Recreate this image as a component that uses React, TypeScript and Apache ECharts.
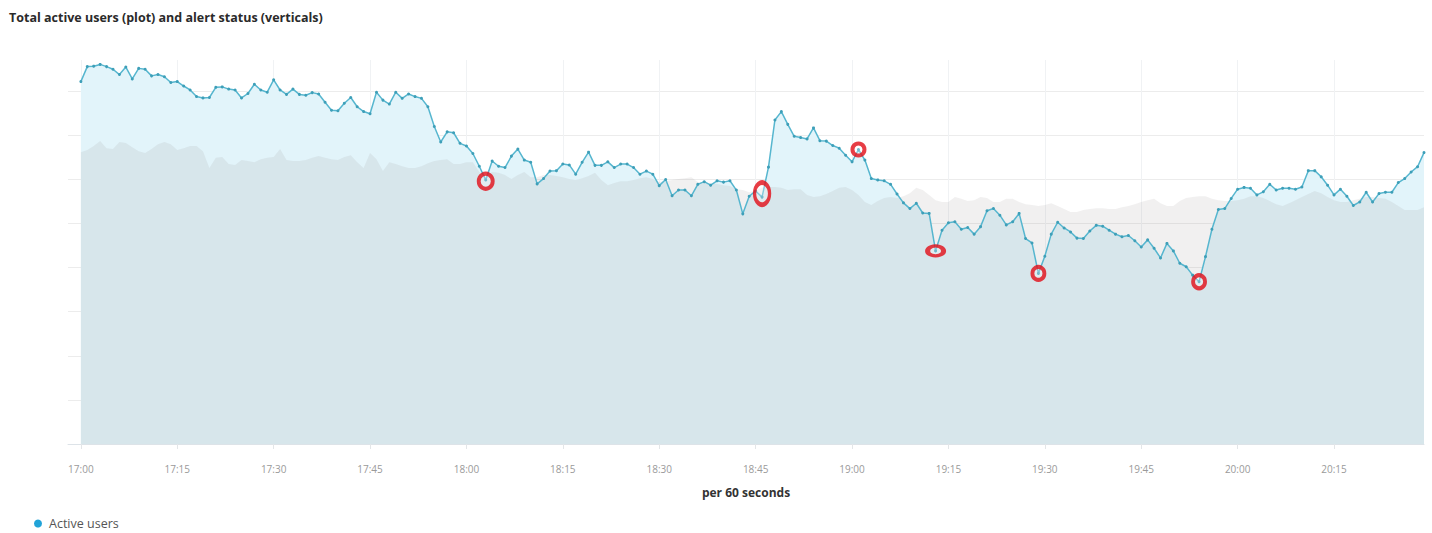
import React, { useEffect, useRef } from "react";
import * as echarts from "echarts";

// Active users per minute, 17:00 -> 20:29
const activeUsers: number[] = [
  822, 856, 857, 861, 856, 850, 838, 855, 828, 852,
  850, 835, 838, 833, 820, 822, 812, 803, 788, 785,
  786, 809, 810, 805, 803, 785, 795, 816, 803, 798,
  826, 803, 793, 805, 793, 791, 797, 794, 775, 757,
  756, 773, 786, 765, 754, 749, 798, 780, 771, 798,
  784, 794, 788, 784, 765, 720, 685, 708, 706, 682,
  676, 659, 630, 599, 642, 630, 627, 653, 669, 644,
  639, 590, 602, 619, 620, 635, 633, 612, 639, 662,
  632, 632, 640, 627, 635, 635, 627, 612, 619, 612,
  586, 600, 563, 576, 576, 563, 589, 595, 587, 597,
  594, 597, 576, 522, 562, 574, 560, 628, 735, 754,
  725, 698, 695, 692, 717, 688, 687, 677, 671, 655,
  640, 668, 644, 602, 599, 597, 589, 567, 547, 534,
  546, 524, 523, 438, 485, 502, 504, 487, 491, 476,
  493, 529, 534, 519, 497, 504, 523, 466, 456, 387,
  426, 476, 503, 490, 481, 467, 466, 483, 496, 494,
  485, 476, 470, 473, 461, 447, 463, 444, 422, 455,
  438, 410, 402, 383, 368, 425, 487, 532, 534, 557,
  578, 582, 580, 565, 572, 589, 576, 580, 580, 578,
  583, 620, 620, 606, 587, 565, 578, 562, 541, 549,
  571, 549, 568, 571, 571, 593, 602, 617, 629, 661,
];

// Comparison (grey band) per minute
const compareUsers: number[] = [
  662, 667, 676, 687, 671, 669, 685, 683, 673, 664,
  660, 669, 680, 685, 680, 667, 671, 676, 676, 664,
  626, 649, 651, 635, 633, 644, 642, 639, 646, 649,
  651, 669, 644, 642, 642, 644, 649, 653, 649, 646,
  644, 651, 655, 639, 626, 660, 646, 619, 639, 635,
  630, 626, 626, 630, 637, 642, 644, 646, 635, 635,
  639, 639, 617, 608, 617, 615, 610, 601, 610, 617,
  605, 605, 610, 610, 608, 605, 601, 599, 603, 608,
  615, 599, 587, 592, 596, 596, 599, 603, 605, 601,
  594, 596, 599, 601, 603, 605, 594, 592, 592, 590,
  587, 585, 578, 576, 571, 576, 581, 583, 583, 581,
  576, 578, 578, 565, 560, 562, 567, 574, 581, 583,
  576, 565, 549, 542, 551, 558, 560, 558, 562, 569,
  581, 576, 565, 553, 549, 549, 560, 556, 551, 553,
  560, 558, 549, 549, 556, 556, 549, 544, 542, 540,
  542, 546, 540, 533, 526, 526, 531, 533, 535, 535,
  533, 533, 537, 540, 544, 549, 553, 556, 546, 540,
  540, 551, 558, 560, 562, 562, 556, 553, 551, 551,
  553, 556, 562, 562, 558, 551, 544, 540, 546, 553,
  560, 567, 574, 569, 560, 553, 549, 549, 553, 556,
  560, 560, 558, 556, 549, 540, 531, 531, 531, 537,
];

// Alert markers (minute index from 17:00, value, marker size)
const alertIndex: number[] = [63, 106, 121, 133, 149, 174];
const alertValue: number[] = [596, 568, 668, 438, 387, 368];
const alertSize: number[][] = [[14, 15], [15, 22], [12, 12], [16, 10], [12, 13], [12, 13]];

const START_MINUTE = 17 * 60;
const PAD = 2;

const pad2 = (n: number) => (n < 10 ? "0" + n : "" + n);
const timeLabels: string[] = activeUsers.map((_, i) => {
  const m = START_MINUTE + i;
  return pad2(Math.floor(m / 60)) + ":" + pad2(m % 60);
});

export default function App() {
  const ref = useRef<HTMLDivElement>(null);
  useEffect(() => {
    if (!ref.current) return;
    const chart = echarts.init(ref.current, undefined, { renderer: "svg" });
    const padArr: any[] = new Array(PAD).fill("-");
    const categories = [...new Array(PAD).fill(""), ...timeLabels];
    const showAt = (idx: number) => idx >= PAD && (idx - PAD) % 15 === 0;
    chart.setOption({
      animation: false,
      textStyle: { fontFamily: "Open Sans" },
      title: {
        text: "Total active users (plot) and alert status (verticals)",
        left: 4,
        top: 6,
        textStyle: { fontFamily: "Open Sans", fontWeight: "bold", fontSize: 12.5, color: "#2a2a2a" },
      },
      legend: {
        data: [{ name: "Active users", itemStyle: { color: "#21a3d8" } }],
        left: 29,
        top: 512,
        icon: "circle",
        itemWidth: 8,
        itemHeight: 8,
        itemGap: 10,
        textStyle: { fontFamily: "Open Sans", fontSize: 12.5, color: "#555", padding: [0, 0, 0, 2] },
      },
      grid: { left: 68, right: 8, top: 60, bottom: 89 },
      xAxis: {
        type: "category",
        boundaryGap: false,
        data: categories,
        name: "per 60 seconds",
        nameLocation: "middle",
        nameGap: 42,
        nameTextStyle: { fontFamily: "Open Sans", fontWeight: "bold", fontSize: 12, color: "#333" },
        axisLine: { show: true, lineStyle: { color: "#dde3e8", width: 1 } },
        axisTick: { show: true, interval: (i: number) => showAt(i), length: 5, lineStyle: { color: "#e3e6e8" } },
        axisLabel: {
          interval: (i: number) => showAt(i),
          margin: 20,
          fontSize: 10,
          color: "#9a9a9a",
        },
        splitLine: { show: true, interval: (i: number) => showAt(i), lineStyle: { color: "#f0f2f4", width: 1 } },
      },
      yAxis: {
        type: "value",
        min: 0,
        max: 871,
        interval: 100,
        axisLabel: { show: false },
        axisLine: { show: false },
        axisTick: { show: false },
        splitLine: { show: true, showMaxLine: false, lineStyle: { color: "#ececec", width: 1 } },
      },
      series: [
        {
          name: "_area",
          type: "line",
          data: [...padArr, ...activeUsers],
          symbol: "none",
          lineStyle: { width: 0, opacity: 0 },
          areaStyle: { color: "#e2f4fa", opacity: 1 },
          silent: true,
          z: 1,
        },
        {
          name: "_compare",
          type: "line",
          data: [...padArr, ...compareUsers],
          symbol: "none",
          lineStyle: { width: 0, opacity: 0 },
          areaStyle: { color: "rgba(140,130,130,0.12)", opacity: 1 },
          silent: true,
          z: 2,
        },
        {
          name: "Active users",
          type: "line",
          data: [...padArr, ...activeUsers],
          symbol: "circle",
          symbolSize: 3,
          showSymbol: true,
          showAllSymbol: true,
          lineStyle: { color: "#56b6cf", width: 1.5 },
          itemStyle: { color: "#3e9fb8" },
          z: 3,
        },
        {
          name: "_alerts",
          type: "scatter",
          data: alertIndex.map((idx, k) => ({
            value: [idx + PAD, alertValue[k]],
            symbolSize: alertSize[k],
          })),
          symbol: "circle",
          itemStyle: { color: "rgba(255,255,255,0.35)", borderColor: "#e10d17", borderWidth: 4 },
          silent: true,
          z: 4,
        },
      ],
    });
    return () => chart.dispose();
  }, []);
  return (
    <div
      ref={ref}
      style={{ position: "absolute", left: 0, top: 0, width: 1432, height: 533, background: "#fff" }}
    />
  );
}
